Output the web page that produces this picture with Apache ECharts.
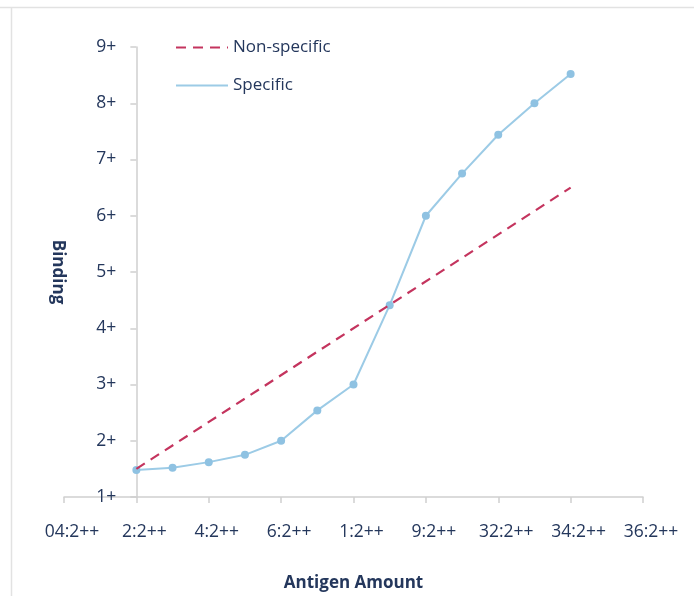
<!DOCTYPE html>
<html>
<head>
<meta charset="utf-8">
<script src="https://cdn.jsdelivr.net/npm/echarts@6/dist/echarts.min.js"></script>
<style>
html,body{margin:0;padding:0;background:#fff;}
#chart{width:694px;height:596px;}
</style>
</head>
<body>
<div id="chart"></div>
<script>
// ---- data ----
var xTickLabels = ["04:2++","2:2++","4:2++","6:2++","1:2++","9:2++","32:2++","34:2++","36:2++"];
var yTickLabels = ["1+","2+","3+","4+","5+","6+","7+","8+","9+"];
var specificX = [0,0.5,1,1.5,2,2.5,3,3.5,4,4.5,5,5.5,6];
var specificY = [1.48,1.52,1.62,1.75,2.0,2.54,3.0,4.41,6.0,6.75,7.44,8.0,8.52];
var nonSpecificX = [0,6];
var nonSpecificY = [1.5,6.5];
var seriesNames = ["Non-specific","Specific"];

function pairs(xs, ys){ return xs.map(function(x,i){ return [x, ys[i]]; }); }

var textColor = '#24375c';
var font = 'Open Sans';
var gridLeft = 64, gridRight = 51, chartW = 694;
var xMin = -1, xMax = 7;
// y axis sits at x = 0 of the value x axis
var yAxisOffset = -((0 - xMin) / (xMax - xMin)) * (chartW - gridLeft - gridRight);

var chart = echarts.init(document.getElementById('chart'), null, {renderer:'canvas'});
chart.setOption({
  animation:false,
  backgroundColor:'#ffffff',
  graphic:[
    {type:'line', shape:{x1:0,y1:7.5,x2:694,y2:7.5}, style:{stroke:'#e2e2e2',lineWidth:1.5}},
    {type:'line', shape:{x1:11.5,y1:7,x2:11.5,y2:596}, style:{stroke:'#e2e2e2',lineWidth:1.5}}
  ],
  grid:{left:gridLeft,right:gridRight,top:47,bottom:99,containLabel:false,outerBoundsMode:'none'},
  legend:{
    orient:'vertical', left:170, top:34, itemWidth:52, itemHeight:12, itemGap:21,
    textStyle:{color:textColor,fontFamily:font,fontSize:17,fontWeight:500},
    data:[
      {name:seriesNames[0], itemStyle:{opacity:0}},
      {name:seriesNames[1], itemStyle:{opacity:0}}
    ]
  },
  xAxis:{
    type:'value', min:xMin, max:xMax, interval:1,
    name:'Antigen Amount', nameLocation:'middle', nameGap:78,
    nameTextStyle:{color:textColor,fontFamily:font,fontSize:17,fontWeight:'bold'},
    axisLine:{show:true,onZero:false,lineStyle:{color:'#cfcfcf',width:1.5}},
    axisTick:{show:true,length:6,lineStyle:{color:'#cfcfcf',width:1.5}},
    splitLine:{show:false},
    axisLabel:{margin:26,color:textColor,fontFamily:font,fontSize:17.5,fontWeight:500,padding:[0,0,0,16],
      formatter:function(v){ var i=Math.round(v-xMin); return xTickLabels[i]||''; }}
  },
  yAxis:{
    type:'value', min:1, max:9, interval:1, offset:yAxisOffset,
    name:'Binding', nameLocation:'middle', nameGap:70, nameRotate:-90,
    nameTextStyle:{color:textColor,fontFamily:font,fontSize:17,fontWeight:'bold'},
    axisLine:{show:true,onZero:false,lineStyle:{color:'#cfcfcf',width:1.5}},
    axisTick:{show:true,length:6,lineStyle:{color:'#cfcfcf',width:1.5}},
    splitLine:{show:false},
    axisLabel:{margin:20,color:textColor,fontFamily:font,fontSize:17.5,fontWeight:500,
      formatter:function(v){ var i=Math.round(v-1); return yTickLabels[i]||''; }}
  },
  series:[
    {
      name:seriesNames[0], type:'line', symbol:'none',
      data:pairs(nonSpecificX,nonSpecificY),
      lineStyle:{color:'#c4345e',width:2.2,type:[10,7]},
      itemStyle:{color:'#c4345e'},
      z:3
    },
    {
      name:seriesNames[1], type:'line', symbol:'circle', symbolSize:8,
      data:pairs(specificX,specificY),
      lineStyle:{color:'#9ccbe6',width:2},
      itemStyle:{color:'#8fc2e2'},
      z:2
    }
  ]
});
</script>
</body>
</html>
